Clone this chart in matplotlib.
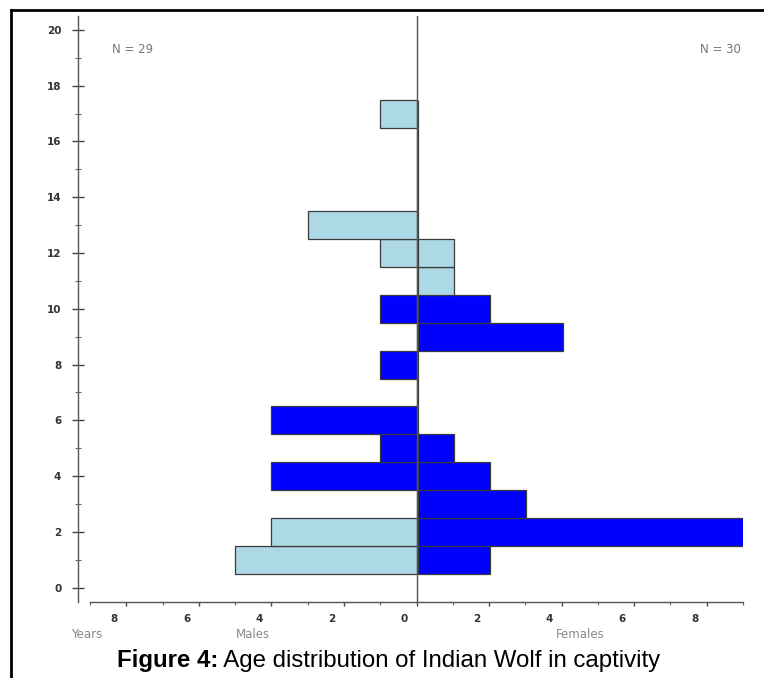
import matplotlib
matplotlib.use("Agg")
import matplotlib.pyplot as plt
from matplotlib.transforms import ScaledTranslation
from matplotlib.lines import Line2D
import numpy as np

# ---- data ----
ages = [1, 2, 3, 4, 5, 6, 7, 8, 9, 10, 11, 12, 13, 14, 15, 16, 17]
males = [5, 4, 0, 4, 1, 4, 0, 1, 0, 1, 0, 1, 3, 0, 0, 0, 1]
females = [2, 9, 3, 2, 1, 0, 0, 0, 4, 2, 1, 1, 0, 0, 0, 0, 0]
# shading of each bar: "light" or "dark"
male_shade = ["light", "light", "dark", "dark", "dark", "dark", "dark", "dark",
              "dark", "dark", "light", "light", "light", "light", "light", "light", "light"]
female_shade = ["dark", "dark", "dark", "dark", "dark", "dark", "dark", "dark",
                "dark", "dark", "light", "light", "light", "light", "light", "light", "light"]
shade_colors = {"light": "#ADD8E6", "dark": "#0000FF"}
n_males_label = "N = 29"
n_females_label = "N = 30"
x_ticks = [-8, -6, -4, -2, 0, 2, 4, 6, 8]
y_ticks = [0, 2, 4, 6, 8, 10, 12, 14, 16, 18, 20]
title_bold = "Figure 4:"
title_rest = " Age distribution of Indian Wolf in captivity"

W, H, DPI = 764, 678, 100
fig = plt.figure(figsize=(W / DPI, H / DPI), dpi=DPI)
fig.patch.set_facecolor("white")

ax_l, ax_r, ax_t, ax_b = 90, 743, 16, 601.6
ax = fig.add_axes([ax_l / W, 1 - ax_b / H, (ax_r - ax_l) / W, (ax_b - ax_t) / H])

ax.barh(ages, [-m for m in males], height=1.0, left=0,
        color=[shade_colors[s] for s in male_shade],
        edgecolor="#3a3a3a", linewidth=0.9, zorder=2)
ax.barh(ages, females, height=1.0, left=0.03,
        color=[shade_colors[s] for s in female_shade],
        edgecolor="#3a3a3a", linewidth=0.9, zorder=2)

ax.set_xlim(-9, 9)
ax.set_ylim(-0.5, 20.5)

# centre line
ax.axvline(0, color="#555555", linewidth=1.0, zorder=3)

# spines
for s in ["top", "right"]:
    ax.spines[s].set_visible(False)
ax.spines["left"].set_position(("outward", 12 * 72 / DPI))
ax.spines["left"].set_color("#555555")
ax.spines["bottom"].set_color("#555555")
ax.spines["left"].set_linewidth(1.0)
ax.spines["bottom"].set_linewidth(1.0)

# ticks
ax.set_yticks(y_ticks)
ax.set_yticks(np.arange(1, 21, 2), minor=True)
ax.set_xticks(x_ticks)
ax.set_xticks(np.arange(-9, 10, 2), minor=True)
ax.set_xticklabels([str(abs(v)) for v in x_ticks])
ax.set_yticklabels([str(v) for v in y_ticks])
ax.tick_params(axis="y", which="major", direction="inout", length=8, width=1.0,
               color="#444444", labelsize=7.5, labelcolor="#333333", pad=8)
ax.tick_params(axis="y", which="minor", direction="inout", length=5, width=0.8,
               color="#666666")
ax.tick_params(axis="x", which="major", direction="out", length=3, width=1.0,
               color="#444444", labelsize=7.5, labelcolor="#333333", pad=6)
ax.tick_params(axis="x", which="minor", direction="out", length=2, width=0.8,
               color="#666666")
for lbl in ax.get_xticklabels():
    lbl.set_fontweight("bold")
    lbl.set_transform(lbl.get_transform() + ScaledTranslation(-12 / DPI, 0, fig.dpi_scale_trans))
for lbl in ax.get_yticklabels():
    lbl.set_fontweight("bold")

# N labels
ax.text(-8.4, 19.3, n_males_label, color="#777777", fontsize=8.5, ha="left", va="center")
ax.text(8.95, 19.3, n_females_label, color="#777777", fontsize=8.5, ha="right", va="center")

# bottom labels
fig.text(71 / W, 1 - 635 / H, "Years", color="#888888", fontsize=8.5, ha="left", va="center")
fig.text(236 / W, 1 - 635 / H, "Males", color="#888888", fontsize=8.5, ha="left", va="center")
fig.text(556 / W, 1 - 635 / H, "Females", color="#888888", fontsize=8.5, ha="left", va="center")

# title (bold part + regular part)
t1 = fig.text(117 / W, 1 - 661 / H, title_bold, fontsize=17.3, fontweight="bold",
              family="Liberation Sans", ha="left", va="center")
fig.canvas.draw()
bb = t1.get_window_extent()
fig.text(bb.x1 / W, 1 - 661 / H, title_rest, fontsize=17.3,
         family="Liberation Sans", ha="left", va="center")

# outer frame (top and left)
fig.add_artist(Line2D([11 / W, 1.0], [1 - 9.5 / H, 1 - 9.5 / H], color="black",
                      linewidth=2.0, transform=fig.transFigure))
fig.add_artist(Line2D([11 / W, 11 / W], [0.0, 1 - 9.5 / H], color="black",
                      linewidth=2.0, transform=fig.transFigure))

fig.savefig("out.png", dpi=DPI)
